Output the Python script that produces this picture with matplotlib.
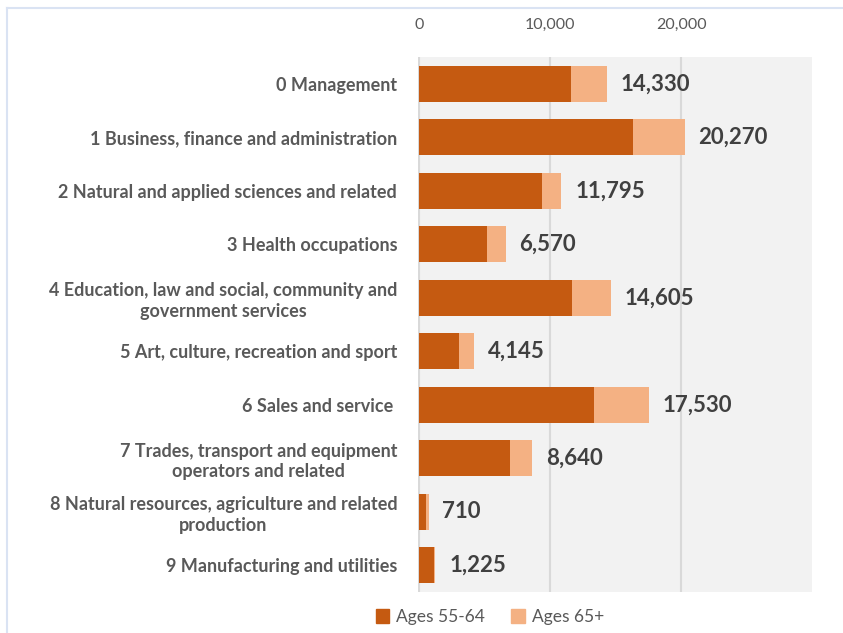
import matplotlib
matplotlib.use("Agg")
import matplotlib.pyplot as plt
from matplotlib.patches import Patch
from matplotlib.lines import Line2D
import numpy as np

categories = [
    "0 Management",
    "1 Business, finance and administration",
    "2 Natural and applied sciences and related",
    "3 Health occupations",
    "4 Education, law and social, community and\ngovernment services",
    "5 Art, culture, recreation and sport",
    "6 Sales and service ",
    "7 Trades, transport and equipment\noperators and related",
    "8 Natural resources, agriculture and related\nproduction",
    "9 Manufacturing and utilities",
]
ages_55_64 = [11610, 16350, 9410, 5180, 11680, 3010, 13310, 6900, 530, 1120]
ages_65_plus = [2720, 3920, 1430, 1420, 2960, 1140, 4230, 1740, 180, 105]
total_labels = ["14,330", "20,270", "11,795", "6,570", "14,605",
                "4,145", "17,530", "8,640", "710", "1,225"]
x_ticks = [0, 10000, 20000]

dark = "#c55a11"
light = "#f4b183"
grey_text = "#595959"

plt.rcParams["font.family"] = ["Lato", "DejaVu Sans"]

fig = plt.figure(figsize=(8.43, 6.33), dpi=100)
ax = fig.add_axes([418 / 843, 1 - 592 / 633, 394 / 843, 535 / 633])
ax.set_facecolor("#f2f2f2")

y = np.arange(len(categories))
ax.barh(y, ages_55_64, height=0.68, color=dark, zorder=2, label="Ages 55-64")
ax.barh(y, ages_65_plus, left=ages_55_64, height=0.68, color=light, zorder=2,
        label="Ages 65+")

for yi, a, b, lab in zip(y, ages_55_64, ages_65_plus, total_labels):
    ax.annotate(lab, xy=(a + b, yi), xytext=(10, 0), textcoords="offset points",
                va="center", ha="left", fontsize=16, fontweight="bold",
                color="#404040")

ax.set_xlim(-100, 30000)
ax.set_ylim(len(categories) - 0.5, -0.5)
ax.set_xticks(x_ticks)
ax.set_xticklabels(["{:,}".format(t) for t in x_ticks])
ax.xaxis.tick_top()
ax.tick_params(axis="x", length=0, pad=18, labelsize=11.5, labelcolor=grey_text)
ax.set_yticks(y)
ax.set_yticklabels(categories, fontsize=13, fontweight="bold", color=grey_text,
                   linespacing=1.25)
ax.tick_params(axis="y", length=0, pad=15)
for lbl in ax.get_yticklabels():
    lbl.set_multialignment("center")
ax.grid(axis="x", color="#d9d9d9", linewidth=1.5, zorder=1)
for s in ax.spines.values():
    s.set_visible(False)

handles = [Patch(color=dark, label="Ages 55-64"), Patch(color=light, label="Ages 65+")]
fig.legend(handles=handles, loc="center", bbox_to_anchor=(490 / 843, 1 - 617 / 633),
           ncol=2, frameon=False, fontsize=12.5, labelcolor=grey_text,
           handlelength=0.8, handleheight=0.8, handletextpad=0.4, columnspacing=1.5)

# chart frame edge
fig.add_artist(Line2D([7 / 843, 7 / 843], [0, 1 - 8 / 633], color="#dae3f3", lw=1.5))
fig.add_artist(Line2D([7 / 843, 1], [1 - 8 / 633, 1 - 8 / 633], color="#dae3f3", lw=1.5))

fig.savefig("out.png", dpi=100)
